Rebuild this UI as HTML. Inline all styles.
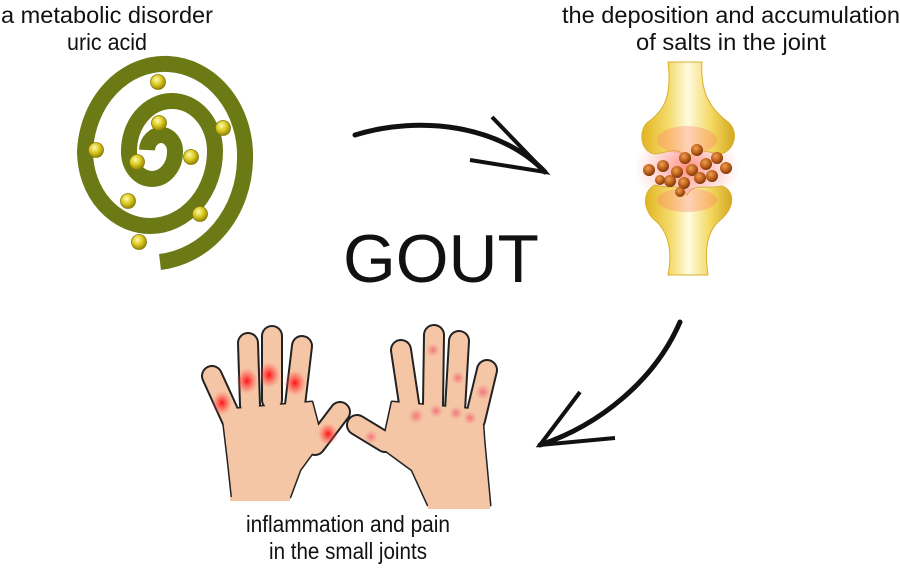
<!DOCTYPE html>
<html><head><meta charset="utf-8"><style>
html,body{margin:0;padding:0;background:#fff;}
svg{display:block;}
text{font-family:"Liberation Sans",sans-serif;fill:#111;}
</style></head><body>
<svg width="900" height="568" viewBox="0 0 900 568" xmlns="http://www.w3.org/2000/svg">
<defs>
<radialGradient id="bead" cx="0.4" cy="0.35" r="0.7"><stop offset="0" stop-color="#fffbb0"/><stop offset="0.5" stop-color="#d8c81c"/><stop offset="1" stop-color="#8a7a08"/></radialGradient>
<radialGradient id="salt" cx="0.4" cy="0.35" r="0.7"><stop offset="0" stop-color="#f0a050"/><stop offset="0.6" stop-color="#b85a18"/><stop offset="1" stop-color="#6a3008"/></radialGradient>
<linearGradient id="bone" x1="0" x2="1"><stop offset="0" stop-color="#e2b520"/><stop offset="0.3" stop-color="#f5dc70"/><stop offset="0.5" stop-color="#fffbe0"/><stop offset="0.75" stop-color="#f3d860"/><stop offset="1" stop-color="#d5a820"/></linearGradient>
<radialGradient id="glow" cx="0.5" cy="0.5" r="0.5"><stop offset="0" stop-color="#ff7060" stop-opacity="0.8"/><stop offset="1" stop-color="#ff9090" stop-opacity="0"/></radialGradient>
<radialGradient id="red" cx="0.5" cy="0.5" r="0.5"><stop offset="0" stop-color="#ff1010"/><stop offset="1" stop-color="#ff5050" stop-opacity="0"/></radialGradient>
<radialGradient id="pink" cx="0.5" cy="0.5" r="0.5"><stop offset="0" stop-color="#f06070" stop-opacity="0.8"/><stop offset="1" stop-color="#f08080" stop-opacity="0"/></radialGradient>
</defs>

<text x="107" y="23" font-size="23" text-anchor="middle" textLength="212" lengthAdjust="spacingAndGlyphs">a metabolic disorder</text>
<text x="107" y="50" font-size="23" text-anchor="middle" textLength="80" lengthAdjust="spacingAndGlyphs">uric acid</text>
<text x="731" y="23" font-size="23" text-anchor="middle" textLength="338" lengthAdjust="spacingAndGlyphs">the deposition and accumulation</text>
<text x="731" y="50" font-size="23" text-anchor="middle" textLength="190" lengthAdjust="spacingAndGlyphs">of salts in the joint</text>
<text x="348" y="532" font-size="23" text-anchor="middle" textLength="204" lengthAdjust="spacingAndGlyphs">inflammation and pain</text>
<text x="348" y="559" font-size="23" text-anchor="middle" textLength="158" lengthAdjust="spacingAndGlyphs">in the small joints</text>
<text x="441" y="282" font-size="68" text-anchor="middle" textLength="196" lengthAdjust="spacingAndGlyphs">GOUT</text>

<path d="M147,150 A14,16 0 0 1 175,152 A23,27 0 0 1 129,152 A43,50 0 0 1 215,150 A65,75 0 0 1 85,152 A80,92 0 0 1 245,160 A95,105 0 0 1 160,262" fill="none" stroke="#6b7a14" stroke-width="16" stroke-linecap="butt"/>
<g fill="url(#bead)" stroke="#8a7a08" stroke-width="0.8">
<circle cx="158" cy="82" r="7.5"/><circle cx="159" cy="123" r="7.5"/><circle cx="96" cy="150" r="7.5"/>
<circle cx="137" cy="162" r="7.5"/><circle cx="191" cy="157" r="7.5"/><circle cx="223" cy="128" r="7.5"/>
<circle cx="128" cy="201" r="7.5"/><circle cx="200" cy="214" r="7.5"/><circle cx="139" cy="242" r="7.5"/>
</g>

<ellipse cx="687" cy="168" rx="52" ry="40" fill="url(#glow)"/>
<path d="M668,62 L702,62 C700,95 712,110 728,122 C740,132 734,152 720,154 C705,152 695,145 687,160 C680,145 670,152 655,154 C640,152 638,130 648,122 C665,110 672,95 668,62 Z" fill="url(#bone)" stroke="#d9b030" stroke-width="1"/>
<path d="M655,185 C670,190 680,182 687,195 C694,182 705,190 722,186 C737,192 734,210 718,222 C705,235 705,255 708,275 L668,275 C672,255 670,235 657,222 C643,212 641,192 655,185 Z" fill="url(#bone)" stroke="#d9b030" stroke-width="1"/>
<ellipse cx="687" cy="140" rx="30" ry="14" fill="#ff8070" opacity="0.35"/>
<ellipse cx="687" cy="200" rx="30" ry="12" fill="#ff8070" opacity="0.35"/>
<g fill="url(#salt)">
<circle cx="649" cy="170" r="6"/><circle cx="663" cy="166" r="6"/><circle cx="677" cy="172" r="6"/><circle cx="685" cy="158" r="6"/>
<circle cx="697" cy="150" r="6"/><circle cx="706" cy="164" r="6"/><circle cx="717" cy="158" r="6"/><circle cx="726" cy="168" r="6"/>
<circle cx="692" cy="170" r="6"/><circle cx="670" cy="181" r="6"/><circle cx="684" cy="183" r="6"/><circle cx="700" cy="178" r="6"/>
<circle cx="712" cy="176" r="6"/><circle cx="680" cy="192" r="5"/><circle cx="660" cy="180" r="5"/>
</g>

<path d="M355,135 C420,115 500,125 545,172" fill="none" stroke="#111" stroke-width="5" stroke-linecap="round"/>
<path d="M492,117 L545,172 L470,160" fill="none" stroke="#111" stroke-width="4"/>
<path d="M680,322 C655,380 600,425 540,445" fill="none" stroke="#111" stroke-width="5" stroke-linecap="round"/>
<path d="M580,392 L540,445 L615,438" fill="none" stroke="#111" stroke-width="4"/>

<g stroke="#222" stroke-linecap="round" stroke-linejoin="round" fill="#222">
<g stroke-width="22">
<line x1="232" y1="420" x2="212" y2="376"/><line x1="250" y1="405" x2="248" y2="343"/>
<line x1="272" y1="400" x2="272" y2="336"/><line x1="295" y1="405" x2="302" y2="346"/>
<line x1="315" y1="445" x2="340" y2="412"/>
<line x1="385" y1="442" x2="357" y2="425"/><line x1="410" y1="410" x2="401" y2="350"/>
<line x1="433" y1="405" x2="434" y2="335"/><line x1="455" y1="410" x2="459" y2="341"/>
<line x1="475" y1="420" x2="487" y2="370"/>
</g>
<path stroke-width="3" d="M222,410 L312,402 L322,440 L300,470 L290,497 L232,497 L228,460 Z"/>
<path stroke-width="3" d="M392,402 L482,410 L484,440 L490,505 L428,505 L412,470 L382,448 Z"/>
</g>
<g stroke="#f5c6a5" stroke-linecap="round" stroke-linejoin="round" fill="#f5c6a5">
<g stroke-width="18">
<line x1="232" y1="420" x2="212" y2="376"/><line x1="250" y1="405" x2="248" y2="343"/>
<line x1="272" y1="400" x2="272" y2="336"/><line x1="295" y1="405" x2="302" y2="346"/>
<line x1="315" y1="445" x2="340" y2="412"/>
<line x1="385" y1="442" x2="357" y2="425"/><line x1="410" y1="410" x2="401" y2="350"/>
<line x1="433" y1="405" x2="434" y2="335"/><line x1="455" y1="410" x2="459" y2="341"/>
<line x1="475" y1="420" x2="487" y2="370"/>
</g>
<path stroke-width="0" d="M222,410 L312,402 L322,440 L300,470 L290,497 L232,497 L228,460 Z"/>
<path stroke-width="0" d="M392,402 L482,410 L484,440 L490,505 L428,505 L412,470 L382,448 Z"/>
</g>
<rect x="230" y="497" width="60" height="4" fill="#f5c6a5"/>
<rect x="428" y="505" width="62" height="4" fill="#f5c6a5"/>
<g fill="url(#red)">
<ellipse cx="247" cy="381" rx="11" ry="13"/><ellipse cx="269" cy="375" rx="11" ry="13"/>
<ellipse cx="295" cy="383" rx="11" ry="13"/><ellipse cx="222" cy="403" rx="10" ry="12"/>
<ellipse cx="328" cy="434" rx="10" ry="11"/>
</g>
<g fill="url(#pink)">
<circle cx="433" cy="350" r="7"/><circle cx="458" cy="378" r="7"/><circle cx="483" cy="392" r="8"/>
<circle cx="416" cy="416" r="8"/><circle cx="436" cy="411" r="7"/><circle cx="456" cy="413" r="7"/>
<circle cx="470" cy="418" r="7"/><circle cx="371" cy="437" r="7"/>
</g>
</svg>
</body></html>
